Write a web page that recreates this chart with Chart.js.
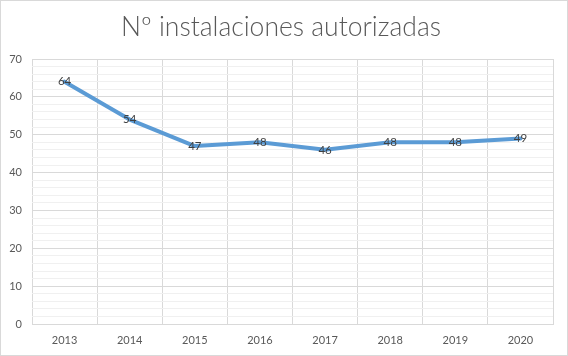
<!DOCTYPE html>
<html>
<head>
<meta charset="utf-8">
<script src="https://cdn.jsdelivr.net/npm/chart.js@4"></script>
<style>
html,body{margin:0;padding:0;background:#fff;}
#wrap{width:568px;height:356px;position:relative;}
</style>
</head>
<body>
<div id="wrap"><canvas id="c" width="568" height="356"></canvas></div>
<script>
const categories = ['2013','2014','2015','2016','2017','2018','2019','2020'];
const values = [64, 54, 47, 48, 46, 48, 48, 49];
const titleText = 'Nº instalaciones autorizadas';
const yMin = 0, yMax = 70;

const FONT = 'Lato, "Open Sans", "Liberation Sans", sans-serif';

const bgPlugin = {
  id: 'bg',
  beforeDraw(chart) {
    const ctx = chart.ctx;
    ctx.save();
    ctx.fillStyle = '#fff';
    ctx.fillRect(0, 0, chart.width, chart.height);
    ctx.strokeStyle = '#d9d9d9';
    ctx.lineWidth = 1;
    ctx.strokeRect(0.5, 0.5, chart.width - 1, chart.height - 1);
    ctx.fillStyle = '#595959';
    ctx.font = '300 26.5px ' + FONT;
    ctx.textAlign = 'center';
    ctx.textBaseline = 'middle';
    ctx.fillText(titleText, 281, 27);
    ctx.restore();
  }
};

const labelPlugin = {
  id: 'dl',
  afterDatasetsDraw(chart) {
    const ctx = chart.ctx;
    const meta = chart.getDatasetMeta(0);
    ctx.save();
    ctx.fillStyle = '#404040';
    ctx.font = '11.5px ' + FONT;
    ctx.textAlign = 'center';
    ctx.textBaseline = 'middle';
    meta.data.forEach((pt, i) => {
      ctx.fillText(String(values[i]), pt.x, pt.y);
    });
    ctx.restore();
  }
};

new Chart(document.getElementById('c'), {
  type: 'line',
  data: {
    labels: categories,
    datasets: [{
      data: values,
      borderColor: '#5b9bd5',
      borderWidth: 4,
      pointRadius: 0,
      tension: 0,
      borderCapStyle: 'round',
      borderJoinStyle: 'round'
    }]
  },
  options: {
    responsive: false,
    animation: false,
    devicePixelRatio: 1,
    layout: { padding: { top: 59, right: 15, bottom: 0, left: 0 } },
    plugins: { legend: { display: false }, tooltip: { enabled: false } },
    scales: {
      x: {
        offset: true,
        grid: { offset: true, color: '#d9d9d9', drawTicks: false },
        border: { color: '#d9d9d9' },
        ticks: { color: '#595959', font: { size: 11, family: FONT }, padding: 10, maxRotation: 0 },
        afterFit(s) { s.height = 32; }
      },
      y: {
        min: yMin, max: yMax,
        grid: {
          drawTicks: false,
          color: (c) => (c.tick && c.tick.value % 10 === 0) ? '#d9d9d9' : '#f0f0f0'
        },
        border: { display: false },
        ticks: {
          stepSize: 2,
          autoSkip: false,
          color: '#595959',
          font: { size: 11, family: FONT },
          padding: 10,
          callback: (v) => (v % 10 === 0 ? String(v) : '')
        },
        afterFit(s) { s.width = 32; }
      }
    }
  },
  plugins: [bgPlugin, labelPlugin]
});
</script>
</body>
</html>
